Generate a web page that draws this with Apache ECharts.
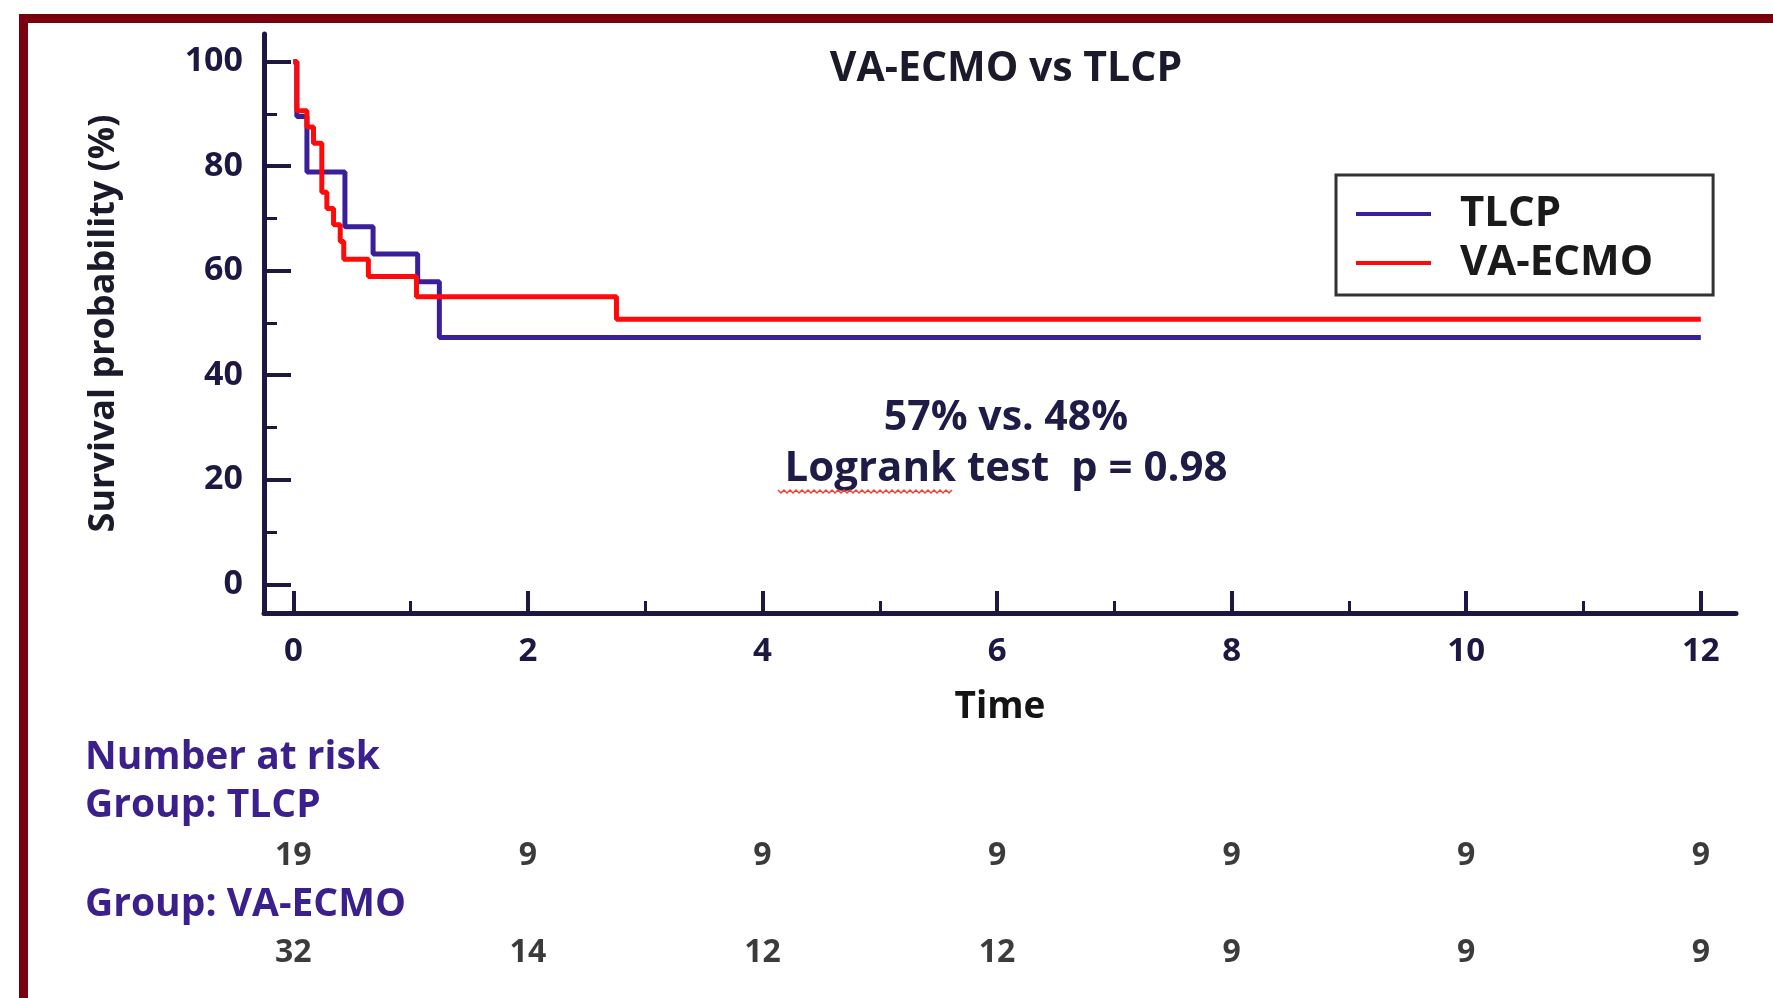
<!DOCTYPE html>
<html>
<head>
<meta charset="utf-8">
<script src="https://cdn.jsdelivr.net/npm/echarts@6/dist/echarts.min.js"></script>
<style>
html,body{margin:0;padding:0;background:#fff;}
#chart{width:1773px;height:998px;}
</style>
</head>
<body>
<div id="chart"></div>
<script>
// ---- data ----
const timesTLCP = [0, 0.03, 0.116, 0.44, 0.68, 1.06, 1.245, 12];
const survTLCP  = [100, 89.5, 78.9, 68.4, 63.2, 57.9, 47.2, 47.2];
const timesECMO = [0, 0.03, 0.116, 0.172, 0.243, 0.286, 0.343, 0.40, 0.43, 0.64, 1.05, 2.755, 12];
const survECMO  = [100, 90.6, 87.5, 84.4, 75.0, 71.9, 68.8, 65.6, 62.2, 58.9, 55.0, 50.7, 50.7];

const riskTimes = [0, 2, 4, 6, 8, 10, 12];
const riskTLCP  = [19, 9, 9, 9, 9, 9, 9];
const riskECMO  = [32, 14, 12, 12, 9, 9, 9];

const xMajorTicks = [0, 2, 4, 6, 8, 10, 12];
const xMinorTicks = [1, 3, 5, 7, 9, 11];
const yMajorTicks = [0, 20, 40, 60, 80, 100];
const yMinorTicks = [10, 30, 50, 70, 90];

const seriesNames = ['TLCP', 'VA-ECMO'];
const titleText = 'VA-ECMO vs TLCP';
const xName = 'Time';
const yName = 'Survival probability (%)';
const noteLine1 = '57% vs. 48%';
const noteLine2 = 'Logrank test  p = 0.98';
const riskHeader = 'Number at risk';
const groupLabels = ['Group: TLCP', 'Group: VA-ECMO'];

// ---- styling ----
const FONT = '"Open Sans", Lato, sans-serif';
const AXIS_COLOR = '#1d1842';
const BLUE = '#3b1e9a';
const RED = '#ff0a0a';
const X_MIN = -0.25, X_MAX = 12.3, Y_MIN = -5.5, Y_MAX = 105.3;
const GRID = {left: 264, right: 37, top: 34, bottom: 385};

const pair = (xs, ys) => xs.map((x, i) => [x, ys[i]]);
const riskData = (vals) => riskTimes.map((t, i) => [t, 0.5, vals[i]]);

const chart = echarts.init(document.getElementById('chart'), null, {renderer: 'canvas'});

const hiddenAxisBase = {
  type: 'value', min: X_MIN, max: X_MAX,
  axisLine: {show: false}, axisTick: {show: false}, axisLabel: {show: false}, splitLine: {show: false}
};

const riskLabel = {
  show: true, position: 'inside', formatter: p => String(p.value[2]),
  fontFamily: FONT, fontSize: 32, fontWeight: 'bold', color: '#0a0a0a',
  textBorderWidth: 0, textBorderColor: 'transparent'
};

const squiggle = [];
for (let i = 0; i <= 58; i++) {
  squiggle.push([778 + i * 3, 490 + (i % 2 === 0 ? 0 : 3)]);
}

chart.setOption({
  backgroundColor: '#ffffff',
  animation: false,
  title: {
    text: titleText,
    left: 1001, top: 44, textAlign: 'center',
    textStyle: {fontFamily: FONT, fontSize: 41, fontWeight: 'bold', color: '#1a1a2a'}
  },
  legend: {
    data: seriesNames,
    orient: 'vertical',
    left: 1336, top: 175,
    icon: 'rect', itemWidth: 75, itemHeight: 4, itemGap: 7,
    borderColor: '#333333', borderWidth: 3,
    padding: [18, 60, 11, 20],
    textStyle: {fontFamily: FONT, fontSize: 42, fontWeight: 'bold', color: '#1a1a1a', padding: [0, 0, 0, 24]}
  },
  grid: [
    Object.assign({}, GRID),
    {left: GRID.left, right: GRID.right, top: 846, height: 20},
    {left: GRID.left, right: GRID.right, top: 943, height: 20}
  ],
  xAxis: [
    {
      type: 'value', gridIndex: 0, position: 'bottom', min: X_MIN, max: X_MAX,
      name: xName, nameLocation: 'middle', nameGap: 76,
      nameTextStyle: {fontFamily: FONT, fontSize: 37, fontWeight: 'bold', color: '#141414'},
      axisLine: {show: true, onZero: false, lineStyle: {color: AXIS_COLOR, width: 5}},
      axisTick: {show: true, inside: true, length: 22, customValues: xMajorTicks, lineStyle: {color: AXIS_COLOR, width: 4}},
      axisLabel: {show: true, customValues: xMajorTicks, margin: 22, fontFamily: FONT, fontSize: 33, fontWeight: 'bold', color: AXIS_COLOR},
      splitLine: {show: false}
    },
    {
      type: 'value', gridIndex: 0, position: 'bottom', offset: 0, min: X_MIN, max: X_MAX,
      axisLine: {show: false, onZero: false},
      axisTick: {show: true, inside: true, length: 12, customValues: xMinorTicks, lineStyle: {color: AXIS_COLOR, width: 3}},
      axisLabel: {show: false},
      splitLine: {show: false}
    },
    Object.assign({gridIndex: 1}, hiddenAxisBase),
    Object.assign({gridIndex: 2}, hiddenAxisBase)
  ],
  yAxis: [
    {
      type: 'value', gridIndex: 0, position: 'left', min: Y_MIN, max: Y_MAX,
      name: yName, nameLocation: 'middle', nameGap: 142, nameRotate: 90,
      nameTextStyle: {fontFamily: FONT, fontSize: 36, fontWeight: 'bold', color: '#1a1a2a'},
      axisLine: {show: true, onZero: false, lineStyle: {color: AXIS_COLOR, width: 5}},
      axisTick: {show: true, inside: true, length: 27, customValues: yMajorTicks, lineStyle: {color: AXIS_COLOR, width: 4}},
      axisLabel: {show: true, customValues: yMajorTicks, margin: 21, fontFamily: FONT, fontSize: 34, fontWeight: 'bold', color: AXIS_COLOR},
      splitLine: {show: false}
    },
    {
      type: 'value', gridIndex: 0, position: 'left', offset: 0, min: Y_MIN, max: Y_MAX,
      axisLine: {show: false, onZero: false},
      axisTick: {show: true, inside: true, length: 13, customValues: yMinorTicks, lineStyle: {color: AXIS_COLOR, width: 3}},
      axisLabel: {show: false},
      splitLine: {show: false}
    },
    {type: 'value', gridIndex: 1, min: 0, max: 1, show: false},
    {type: 'value', gridIndex: 2, min: 0, max: 1, show: false}
  ],
  series: [
    {
      name: seriesNames[0], type: 'line', step: 'end', xAxisIndex: 0, yAxisIndex: 0,
      data: pair(timesTLCP, survTLCP), showSymbol: false, symbol: 'none',
      color: BLUE, lineStyle: {color: BLUE, width: 5}, z: 3
    },
    {
      name: seriesNames[1], type: 'line', step: 'end', xAxisIndex: 0, yAxisIndex: 0,
      data: pair(timesECMO, survECMO), showSymbol: false, symbol: 'none',
      color: RED, lineStyle: {color: RED, width: 5}, z: 4
    },
    {
      type: 'scatter', xAxisIndex: 2, yAxisIndex: 2, symbolSize: 0, silent: true,
      itemStyle: {color: '#0a0a0a'},
      data: riskData(riskTLCP), label: riskLabel
    },
    {
      type: 'scatter', xAxisIndex: 3, yAxisIndex: 3, symbolSize: 0, silent: true,
      itemStyle: {color: '#0a0a0a'},
      data: riskData(riskECMO), label: riskLabel
    }
  ],
  graphic: [
    {
      type: 'rect', silent: true, z: 100,
      shape: {x: 23.5, y: 18.5, width: 1900, height: 1200},
      style: {fill: 'none', stroke: '#7a0010', lineWidth: 9}
    },
    {
      type: 'text', silent: true,
      style: {text: noteLine1, x: 1006, y: 418, align: 'center', verticalAlign: 'middle',
        font: 'bold 41px ' + FONT, fill: '#1e1c46'}
    },
    {
      type: 'text', silent: true,
      style: {text: noteLine2, x: 1006, y: 469, align: 'center', verticalAlign: 'middle',
        font: 'bold 42px ' + FONT, fill: '#1e1c46'}
    },
    {
      type: 'polyline', silent: true,
      shape: {points: squiggle},
      style: {stroke: '#f04030', lineWidth: 1.5, fill: 'none'}
    },
    {
      type: 'text', silent: true,
      style: {text: riskHeader, x: 85, y: 758, align: 'left', verticalAlign: 'middle',
        font: 'bold 39px ' + FONT, fill: '#3b1f8c'}
    },
    {
      type: 'text', silent: true,
      style: {text: groupLabels[0], x: 85, y: 806, align: 'left', verticalAlign: 'middle',
        font: 'bold 39px ' + FONT, fill: '#3b1f8c'}
    },
    {
      type: 'text', silent: true,
      style: {text: groupLabels[1], x: 85, y: 905, align: 'left', verticalAlign: 'middle',
        font: 'bold 39px ' + FONT, fill: '#3b1f8c'}
    }
  ]
});
</script>
</body>
</html>
